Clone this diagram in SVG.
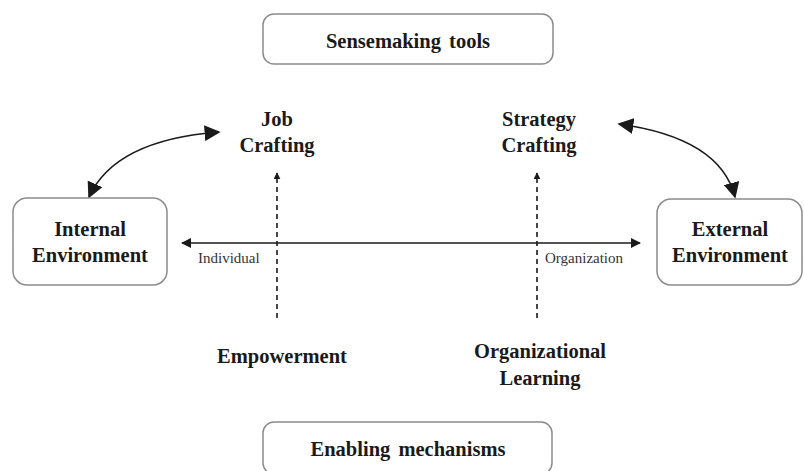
<svg xmlns="http://www.w3.org/2000/svg" width="804" height="471" viewBox="0 0 804 471">
  <style>
    .box { fill: #ffffff; stroke: #8c8c8c; stroke-width: 1.5; }
    .lbl { font-family: "Liberation Serif", "Times New Roman", serif; font-weight: bold; font-size: 20.5px; fill: #1a1a1a; text-anchor: middle; }
    .axis { font-family: "Liberation Serif", "Times New Roman", serif; font-size: 15px; fill: #333333; }
    .line { fill: none; stroke: #1a1a1a; stroke-width: 1.6; }
    .dash { fill: none; stroke: #1a1a1a; stroke-width: 1.6; stroke-dasharray: 5 4; }
  </style>
  <defs>
    <marker id="head" viewBox="0 0 10 10" refX="9" refY="5" markerWidth="10" markerHeight="10" markerUnits="userSpaceOnUse" orient="auto-start-reverse">
      <path d="M0,0 L10,5 L0,10 z" fill="#1a1a1a"/>
    </marker>
    <marker id="bighead" viewBox="0 0 10 10" refX="9" refY="5" markerWidth="16" markerHeight="16" markerUnits="userSpaceOnUse" orient="auto-start-reverse">
      <path d="M0,0 L10,5 L0,10 z" fill="#1a1a1a"/>
    </marker>
    <marker id="smallhead" viewBox="0 0 10 10" refX="9" refY="5" markerWidth="7" markerHeight="7" markerUnits="userSpaceOnUse" orient="auto">
      <path d="M0,0 L10,5 L0,10 z" fill="#1a1a1a"/>
    </marker>
  </defs>

  <rect width="804" height="471" fill="#ffffff"/>

  <g id="connectors">
    <!-- individual / organization axis -->
    <path class="line" d="M182,243 L640,243" marker-start="url(#head)" marker-end="url(#head)"/>
    <!-- empowerment to job crafting -->
    <path class="dash" d="M277,318 L277,173" marker-end="url(#smallhead)"/>
    <!-- organizational learning to strategy crafting -->
    <path class="dash" d="M537,318 L537,173" marker-end="url(#smallhead)"/>
    <!-- internal environment <-> job crafting -->
    <path class="line" d="M89,197 Q115,140 219,132" marker-start="url(#bighead)" marker-end="url(#bighead)"/>
    <!-- strategy crafting <-> external environment -->
    <path class="line" d="M619,124 Q720,138 735,197" marker-start="url(#bighead)" marker-end="url(#bighead)"/>
  </g>

  <g id="sensemaking-tools">
    <rect class="box" x="263" y="14" width="290" height="50" rx="11"/>
    <text class="lbl" x="408" y="48" word-spacing="3">Sensemaking tools</text>
  </g>

  <g id="enabling-mechanisms">
    <rect class="box" x="263" y="422" width="289" height="52" rx="11"/>
    <text class="lbl" x="408" y="456" word-spacing="3">Enabling mechanisms</text>
  </g>

  <g id="internal-environment">
    <rect class="box" x="13" y="198" width="154" height="87" rx="14"/>
    <text class="lbl" x="90" y="236">Internal</text>
    <text class="lbl" x="90" y="262">Environment</text>
  </g>

  <g id="external-environment">
    <rect class="box" x="657" y="199" width="145" height="86" rx="14"/>
    <text class="lbl" x="730" y="236">External</text>
    <text class="lbl" x="730" y="262">Environment</text>
  </g>

  <g id="job-crafting">
    <text class="lbl" x="277" y="126">Job</text>
    <text class="lbl" x="277" y="152">Crafting</text>
  </g>

  <g id="strategy-crafting">
    <text class="lbl" x="539" y="126">Strategy</text>
    <text class="lbl" x="539" y="152">Crafting</text>
  </g>

  <g id="empowerment">
    <text class="lbl" x="282" y="363">Empowerment</text>
  </g>

  <g id="organizational-learning">
    <text class="lbl" x="540" y="358">Organizational</text>
    <text class="lbl" x="540" y="385">Learning</text>
  </g>

  <g id="axis-labels">
    <text class="axis" x="198" y="263">Individual</text>
    <text class="axis" x="545" y="263">Organization</text>
  </g>
</svg>
